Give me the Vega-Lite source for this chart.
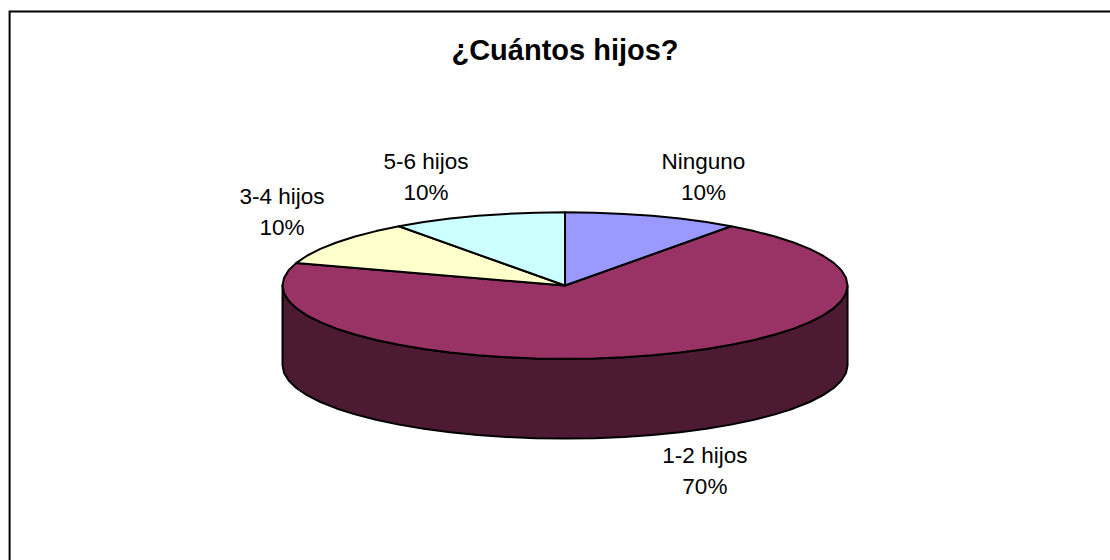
{"$schema":"https://vega.github.io/schema/vega-lite/v6.json","width":1110,"height":560,"padding":0,"autosize":"none","background":"white","view":{"stroke":null},
"title":{"text":"¿Cuántos hijos?","font":"Liberation Sans","fontSize":29,"fontWeight":"bold","color":"#000000","anchor":"middle","orient":"top","offset":-66,"dx":10},
"datasets":{"shapes":[
{"part":"Marco","i":0,"x":-1.966,"y":-3.747},{"part":"Marco","i":1,"x":-1.966,"y":3.741},{"part":"Marco","i":2,"x":1.929,"y":3.741},
{"part":"Lateral","i":0,"x":1,"y":0},{"part":"Lateral","i":1,"x":0.9945,"y":-0.1045},{"part":"Lateral","i":2,"x":0.9781,"y":-0.2079},{"part":"Lateral","i":3,"x":0.9511,"y":-0.309},{"part":"Lateral","i":4,"x":0.9135,"y":-0.4067},{"part":"Lateral","i":5,"x":0.866,"y":-0.5},{"part":"Lateral","i":6,"x":0.809,"y":-0.5878},{"part":"Lateral","i":7,"x":0.7431,"y":-0.6691},{"part":"Lateral","i":8,"x":0.6691,"y":-0.7431},{"part":"Lateral","i":9,"x":0.5878,"y":-0.809},{"part":"Lateral","i":10,"x":0.5,"y":-0.866},{"part":"Lateral","i":11,"x":0.4067,"y":-0.9135},{"part":"Lateral","i":12,"x":0.309,"y":-0.9511},{"part":"Lateral","i":13,"x":0.2079,"y":-0.9781},{"part":"Lateral","i":14,"x":0.1045,"y":-0.9945},{"part":"Lateral","i":15,"x":0,"y":-1},{"part":"Lateral","i":16,"x":-0.1045,"y":-0.9945},{"part":"Lateral","i":17,"x":-0.2079,"y":-0.9781},{"part":"Lateral","i":18,"x":-0.309,"y":-0.9511},{"part":"Lateral","i":19,"x":-0.4067,"y":-0.9135},{"part":"Lateral","i":20,"x":-0.5,"y":-0.866},{"part":"Lateral","i":21,"x":-0.5878,"y":-0.809},{"part":"Lateral","i":22,"x":-0.6691,"y":-0.7431},{"part":"Lateral","i":23,"x":-0.7431,"y":-0.6691},{"part":"Lateral","i":24,"x":-0.809,"y":-0.5878},{"part":"Lateral","i":25,"x":-0.866,"y":-0.5},{"part":"Lateral","i":26,"x":-0.9135,"y":-0.4067},{"part":"Lateral","i":27,"x":-0.9511,"y":-0.309},{"part":"Lateral","i":28,"x":-0.9781,"y":-0.2079},{"part":"Lateral","i":29,"x":-0.9945,"y":-0.1045},{"part":"Lateral","i":30,"x":-1,"y":0},
{"part":"Lateral","i":31,"x":-1,"y":-1.09},{"part":"Lateral","i":32,"x":-0.9945,"y":-1.1945},{"part":"Lateral","i":33,"x":-0.9781,"y":-1.2979},{"part":"Lateral","i":34,"x":-0.9511,"y":-1.399},{"part":"Lateral","i":35,"x":-0.9135,"y":-1.4967},{"part":"Lateral","i":36,"x":-0.866,"y":-1.59},{"part":"Lateral","i":37,"x":-0.809,"y":-1.6778},{"part":"Lateral","i":38,"x":-0.7431,"y":-1.7591},{"part":"Lateral","i":39,"x":-0.6691,"y":-1.8331},{"part":"Lateral","i":40,"x":-0.5878,"y":-1.899},{"part":"Lateral","i":41,"x":-0.5,"y":-1.956},{"part":"Lateral","i":42,"x":-0.4067,"y":-2.0035},{"part":"Lateral","i":43,"x":-0.309,"y":-2.0411},{"part":"Lateral","i":44,"x":-0.2079,"y":-2.0681},{"part":"Lateral","i":45,"x":-0.1045,"y":-2.0845},{"part":"Lateral","i":46,"x":0,"y":-2.09},{"part":"Lateral","i":47,"x":0.1045,"y":-2.0845},{"part":"Lateral","i":48,"x":0.2079,"y":-2.0681},{"part":"Lateral","i":49,"x":0.309,"y":-2.0411},{"part":"Lateral","i":50,"x":0.4067,"y":-2.0035},{"part":"Lateral","i":51,"x":0.5,"y":-1.956},{"part":"Lateral","i":52,"x":0.5878,"y":-1.899},{"part":"Lateral","i":53,"x":0.6691,"y":-1.8331},{"part":"Lateral","i":54,"x":0.7431,"y":-1.7591},{"part":"Lateral","i":55,"x":0.809,"y":-1.6778},{"part":"Lateral","i":56,"x":0.866,"y":-1.59},{"part":"Lateral","i":57,"x":0.9135,"y":-1.4967},{"part":"Lateral","i":58,"x":0.9511,"y":-1.399},{"part":"Lateral","i":59,"x":0.9781,"y":-1.2979},{"part":"Lateral","i":60,"x":0.9945,"y":-1.1945},{"part":"Lateral","i":61,"x":1,"y":-1.09},{"part":"Lateral","i":62,"x":1,"y":0},
{"part":"1-2 hijos","i":0,"x":0,"y":0},{"part":"1-2 hijos","i":1,"x":0.5878,"y":0.809},{"part":"1-2 hijos","i":2,"x":0.6691,"y":0.7431},{"part":"1-2 hijos","i":3,"x":0.7431,"y":0.6691},{"part":"1-2 hijos","i":4,"x":0.809,"y":0.5878},{"part":"1-2 hijos","i":5,"x":0.866,"y":0.5},{"part":"1-2 hijos","i":6,"x":0.9135,"y":0.4067},{"part":"1-2 hijos","i":7,"x":0.9511,"y":0.309},{"part":"1-2 hijos","i":8,"x":0.9781,"y":0.2079},{"part":"1-2 hijos","i":9,"x":0.9945,"y":0.1045},{"part":"1-2 hijos","i":10,"x":1,"y":0},{"part":"1-2 hijos","i":11,"x":0.9945,"y":-0.1045},{"part":"1-2 hijos","i":12,"x":0.9781,"y":-0.2079},{"part":"1-2 hijos","i":13,"x":0.9511,"y":-0.309},{"part":"1-2 hijos","i":14,"x":0.9135,"y":-0.4067},{"part":"1-2 hijos","i":15,"x":0.866,"y":-0.5},{"part":"1-2 hijos","i":16,"x":0.809,"y":-0.5878},{"part":"1-2 hijos","i":17,"x":0.7431,"y":-0.6691},{"part":"1-2 hijos","i":18,"x":0.6691,"y":-0.7431},{"part":"1-2 hijos","i":19,"x":0.5878,"y":-0.809},{"part":"1-2 hijos","i":20,"x":0.5,"y":-0.866},{"part":"1-2 hijos","i":21,"x":0.4067,"y":-0.9135},{"part":"1-2 hijos","i":22,"x":0.309,"y":-0.9511},{"part":"1-2 hijos","i":23,"x":0.2079,"y":-0.9781},{"part":"1-2 hijos","i":24,"x":0.1045,"y":-0.9945},{"part":"1-2 hijos","i":25,"x":0,"y":-1},{"part":"1-2 hijos","i":26,"x":-0.1045,"y":-0.9945},{"part":"1-2 hijos","i":27,"x":-0.2079,"y":-0.9781},{"part":"1-2 hijos","i":28,"x":-0.309,"y":-0.9511},{"part":"1-2 hijos","i":29,"x":-0.4067,"y":-0.9135},{"part":"1-2 hijos","i":30,"x":-0.5,"y":-0.866},{"part":"1-2 hijos","i":31,"x":-0.5878,"y":-0.809},{"part":"1-2 hijos","i":32,"x":-0.6691,"y":-0.7431},{"part":"1-2 hijos","i":33,"x":-0.7431,"y":-0.6691},{"part":"1-2 hijos","i":34,"x":-0.809,"y":-0.5878},{"part":"1-2 hijos","i":35,"x":-0.866,"y":-0.5},{"part":"1-2 hijos","i":36,"x":-0.9135,"y":-0.4067},{"part":"1-2 hijos","i":37,"x":-0.9511,"y":-0.309},{"part":"1-2 hijos","i":38,"x":-0.9781,"y":-0.2079},{"part":"1-2 hijos","i":39,"x":-0.9945,"y":-0.1045},{"part":"1-2 hijos","i":40,"x":-1,"y":0},{"part":"1-2 hijos","i":41,"x":-0.9945,"y":0.1045},{"part":"1-2 hijos","i":42,"x":-0.9781,"y":0.2079},{"part":"1-2 hijos","i":43,"x":-0.9511,"y":0.309},{"part":"1-2 hijos","i":44,"x":0,"y":0},
{"part":"3-4 hijos","i":0,"x":0,"y":0},{"part":"3-4 hijos","i":1,"x":-0.9511,"y":0.309},{"part":"3-4 hijos","i":2,"x":-0.9135,"y":0.4067},{"part":"3-4 hijos","i":3,"x":-0.866,"y":0.5},{"part":"3-4 hijos","i":4,"x":-0.809,"y":0.5878},{"part":"3-4 hijos","i":5,"x":-0.7431,"y":0.6691},{"part":"3-4 hijos","i":6,"x":-0.6691,"y":0.7431},{"part":"3-4 hijos","i":7,"x":-0.5878,"y":0.809},{"part":"3-4 hijos","i":8,"x":0,"y":0},
{"part":"5-6 hijos","i":0,"x":0,"y":0},{"part":"5-6 hijos","i":1,"x":-0.5878,"y":0.809},{"part":"5-6 hijos","i":2,"x":-0.5,"y":0.866},{"part":"5-6 hijos","i":3,"x":-0.4067,"y":0.9135},{"part":"5-6 hijos","i":4,"x":-0.309,"y":0.9511},{"part":"5-6 hijos","i":5,"x":-0.2079,"y":0.9781},{"part":"5-6 hijos","i":6,"x":-0.1045,"y":0.9945},{"part":"5-6 hijos","i":7,"x":0,"y":1},{"part":"5-6 hijos","i":8,"x":0,"y":0},
{"part":"Ninguno","i":0,"x":0,"y":0},{"part":"Ninguno","i":1,"x":0,"y":1},{"part":"Ninguno","i":2,"x":0.1045,"y":0.9945},{"part":"Ninguno","i":3,"x":0.2079,"y":0.9781},{"part":"Ninguno","i":4,"x":0.309,"y":0.9511},{"part":"Ninguno","i":5,"x":0.4067,"y":0.9135},{"part":"Ninguno","i":6,"x":0.5,"y":0.866},{"part":"Ninguno","i":7,"x":0.5878,"y":0.809},{"part":"Ninguno","i":8,"x":0,"y":0}
],"labels":[
{"label":"Ninguno","share":"10%","x":0.49,"y":1.686},
{"label":"1-2 hijos","share":"70%","x":0.495,"y":-2.322},
{"label":"3-4 hijos","share":"10%","x":-1.002,"y":1.208},
{"label":"5-6 hijos","share":"10%","x":-0.492,"y":1.686}
]},
"layer":[
{"data":{"name":"shapes"},
"mark":{"type":"line","filled":true,"stroke":"#000000","strokeWidth":2,"strokeJoin":"round"},
"transform":[{"filter":"datum.part !== 'Marco'"}],
"encoding":{
"x":{"field":"x","type":"quantitative","scale":{"domain":[-2.0,1.929]},"axis":null},
"y":{"field":"y","type":"quantitative","scale":{"domain":[-3.747,3.898]},"axis":null},
"order":{"field":"i","type":"quantitative"},
"fill":{"field":"part","type":"nominal","legend":null,"scale":{"domain":["Lateral","Ninguno","1-2 hijos","3-4 hijos","5-6 hijos"],"range":["#4C1A33","#9999FF","#993366","#FFFFCC","#CCFFFF"]}}
}},
{"data":{"name":"shapes"},
"mark":{"type":"line","stroke":"#000000","strokeWidth":2},
"transform":[{"filter":"datum.part === 'Marco'"}],
"encoding":{
"x":{"field":"x","type":"quantitative","scale":{"domain":[-2.0,1.929]},"axis":null},
"y":{"field":"y","type":"quantitative","scale":{"domain":[-3.747,3.898]},"axis":null},
"order":{"field":"i","type":"quantitative"}
}},
{"data":{"name":"labels"},
"transform":[{"calculate":"datum.label + '\\n' + datum.share","as":"text"}],
"mark":{"type":"text","font":"Liberation Sans","fontSize":22.5,"lineBreak":"\n","lineHeight":31,"align":"center","baseline":"middle","color":"#000000"},
"encoding":{
"x":{"field":"x","type":"quantitative","scale":{"domain":[-2.0,1.929]},"axis":null},
"y":{"field":"y","type":"quantitative","scale":{"domain":[-3.747,3.898]},"axis":null},
"text":{"field":"text","type":"nominal"}
}}
]}
